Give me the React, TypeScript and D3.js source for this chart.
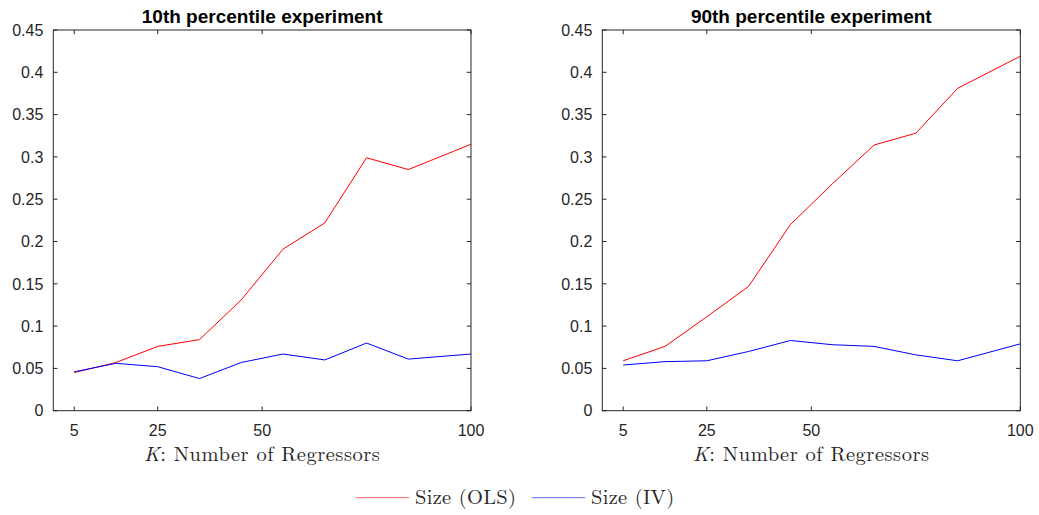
import React from "react";
import * as d3 from "d3";

const kValues = [5, 15, 25, 35, 45, 55, 65, 75, 85, 100];
const xTicks = [5, 25, 50, 100];
const yTicks = [0, 0.05, 0.1, 0.15, 0.2, 0.25, 0.3, 0.35, 0.4, 0.45];
const ols10 = [0.045, 0.057, 0.076, 0.084, 0.131, 0.191, 0.222, 0.299, 0.285, 0.315];
const iv10 = [0.046, 0.056, 0.052, 0.038, 0.057, 0.067, 0.06, 0.08, 0.061, 0.067];
const ols90 = [0.059, 0.076, 0.111, 0.147, 0.22, 0.268, 0.314, 0.328, 0.381, 0.419];
const iv90 = [0.054, 0.058, 0.059, 0.07, 0.083, 0.078, 0.076, 0.066, 0.059, 0.079];
const titles = ["10th percentile experiment", "90th percentile experiment"];
const xLabelText = "Number of Regressors";
const legendLabels = ["Size (OLS)", "Size (IV)"];

const AX = "#262626";
const SANS = "'Liberation Sans', Arial, Helvetica, sans-serif";
const SERIF = "'Latin Modern Roman', 'CMU Serif', serif";

type PanelProps = { left: number; right: number; ols: number[]; iv: number[]; title: string };

function Panel({ left, right, ols, iv, title }: PanelProps) {
  const top = 30;
  const bottom = 410.7;
  const x = d3.scaleLinear().domain([0, 100]).range([left, right]);
  const y = d3.scaleLinear().domain([0, 0.45]).range([bottom, top]);
  const line = d3
    .line<number>()
    .x((_, i) => x(kValues[i]))
    .y((d) => y(d));
  const tl = 4.2;
  const cx = (left + right) / 2;
  return (
    <g>
      <text x={cx} y={22.7} textAnchor="middle" fontFamily={SANS} fontWeight="bold" fontSize={19} fill="#000">
        {title}
      </text>
      <path d={line(ols) || ""} fill="none" stroke="#ff0000" strokeWidth={1} />
      <path d={line(iv) || ""} fill="none" stroke="#0000ff" strokeWidth={1} />
      <rect x={left} y={top} width={right - left} height={bottom - top} fill="none" stroke={AX} strokeWidth={1} />
      {yTicks.map((t) => (
        <g key={"y" + t}>
          <line x1={left} x2={left + tl} y1={y(t)} y2={y(t)} stroke={AX} />
          <line x1={right} x2={right - tl} y1={y(t)} y2={y(t)} stroke={AX} />
          <text x={left - 10} y={y(t)} dy="0.36em" textAnchor="end" fontFamily={SANS} fontSize={16} fill={AX}>
            {String(+t.toFixed(2))}
          </text>
        </g>
      ))}
      {xTicks.map((t) => (
        <g key={"x" + t}>
          <line x1={x(t)} x2={x(t)} y1={bottom} y2={bottom - tl} stroke={AX} />
          <line x1={x(t)} x2={x(t)} y1={top} y2={top + tl} stroke={AX} />
          <text x={x(t)} y={435.5} textAnchor="middle" fontFamily={SANS} fontSize={16} fill={AX}>
            {t}
          </text>
        </g>
      ))}
      <text x={cx} y={460.5} textAnchor="middle" fontFamily={SERIF} fontSize={20.5} letterSpacing={0.5} fill={AX}>
        <tspan fontStyle="italic">K</tspan>
        <tspan>{": " + xLabelText}</tspan>
      </text>
    </g>
  );
}

export default function App() {
  return (
    <svg
      width={1039}
      height={515}
      style={{ position: "absolute", left: 0, top: 0, background: "#fff" }}
    >
      <rect width={1039} height={515} fill="#fff" />
      <Panel left={53.3} right={471} ols={ols10} iv={iv10} title={titles[0]} />
      <Panel left={602.3} right={1020.3} ols={ols90} iv={iv90} title={titles[1]} />
      <g>
        <line x1={356} x2={409} y1={497.7} y2={497.7} stroke="#ff0000" strokeOpacity={0.6} />
        <text x={415} y={503.5} fontFamily={SERIF} fontSize={20.5} letterSpacing={0.3} fill={AX}>
          {legendLabels[0]}
        </text>
        <line x1={532} x2={585} y1={497.7} y2={497.7} stroke="#0000ff" strokeOpacity={0.6} />
        <text x={591} y={503.5} fontFamily={SERIF} fontSize={20.5} letterSpacing={0.3} fill={AX}>
          {legendLabels[1]}
        </text>
      </g>
    </svg>
  );
}
